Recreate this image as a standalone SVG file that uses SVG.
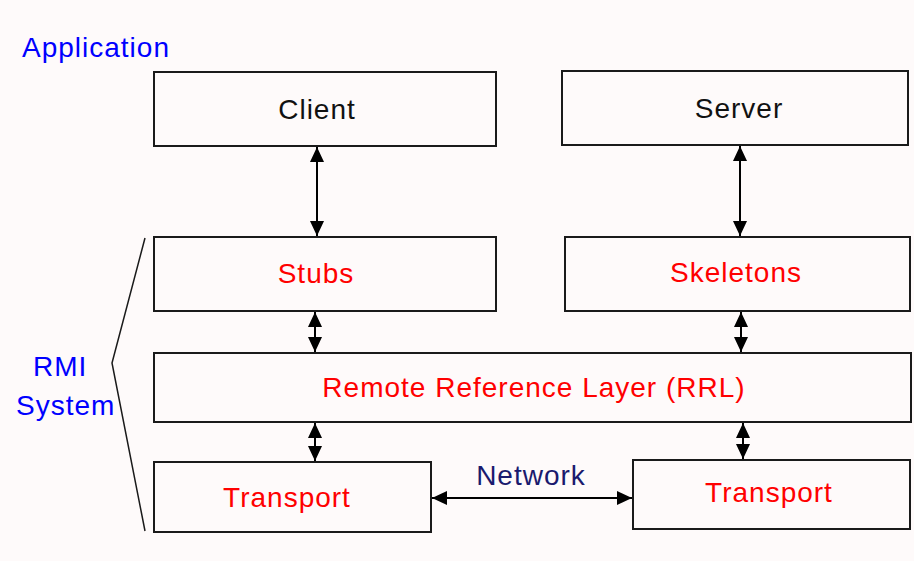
<svg xmlns="http://www.w3.org/2000/svg" width="914" height="561" viewBox="0 0 914 561">
<defs>
<style>
.box{fill:#fefafa;stroke:#1a1a1a;stroke-width:2}
.t{font-family:"Liberation Sans",Arial,sans-serif;font-size:28px;letter-spacing:1px;text-anchor:middle}
.blk{fill:#111}
.red{fill:#ff0000}
.blue{fill:#0000ff}
.navy{fill:#1a1a6e}
.conn{stroke:#000;stroke-width:2;fill:none}
</style>
<marker id="ah" viewBox="0 0 15 14" refX="15" refY="7" markerWidth="15" markerHeight="14" markerUnits="userSpaceOnUse" orient="auto-start-reverse">
<path d="M0,0 L15,7 L0,14 z" fill="#000"/>
</marker>
</defs>
<rect width="914" height="561" fill="#fefafa"/>
<text x="22" y="57" class="t blue" style="text-anchor:start">Application</text>
<g id="rmi-label">
<text x="33" y="376" class="t blue" style="text-anchor:start">RMI</text>
<text x="16" y="415" class="t blue" style="text-anchor:start">System</text>
<polyline points="145,238 112,363 145,531" fill="none" stroke="#1a1a1a" stroke-width="1.5"/>
</g>
<g id="client"><rect x="154" y="72" width="342" height="74" class="box"/><text x="317" y="119" class="t blk">Client</text></g>
<g id="server"><rect x="562" y="71" width="346" height="74" class="box"/><text x="739" y="118" class="t blk">Server</text></g>
<g id="stubs"><rect x="154" y="237" width="342" height="74" class="box"/><text x="316" y="283" class="t red">Stubs</text></g>
<g id="skeletons"><rect x="565" y="237" width="345" height="74" class="box"/><text x="736" y="282" class="t red">Skeletons</text></g>
<g id="rrl"><rect x="154" y="353" width="757" height="69" class="box"/><text x="534" y="397" class="t red">Remote Reference Layer (RRL)</text></g>
<g id="transport-left"><rect x="154" y="462" width="277" height="70" class="box"/><text x="287" y="507" class="t red">Transport</text></g>
<g id="transport-right"><rect x="633" y="460" width="277" height="69" class="box"/><text x="769" y="502" class="t red">Transport</text></g>
<g id="connectors">
<line x1="317" y1="147" x2="317" y2="236" class="conn" marker-start="url(#ah)" marker-end="url(#ah)"/>
<line x1="740" y1="146" x2="740" y2="236" class="conn" marker-start="url(#ah)" marker-end="url(#ah)"/>
<line x1="315" y1="312" x2="315" y2="352" class="conn" marker-start="url(#ah)" marker-end="url(#ah)"/>
<line x1="741" y1="312" x2="741" y2="352" class="conn" marker-start="url(#ah)" marker-end="url(#ah)"/>
<line x1="315" y1="423" x2="315" y2="461" class="conn" marker-start="url(#ah)" marker-end="url(#ah)"/>
<line x1="743" y1="423" x2="743" y2="459" class="conn" marker-start="url(#ah)" marker-end="url(#ah)"/>
<line x1="432" y1="498" x2="632" y2="498" class="conn" marker-start="url(#ah)" marker-end="url(#ah)"/>
<text x="531" y="485" class="t navy">Network</text>
</g>
</svg>
